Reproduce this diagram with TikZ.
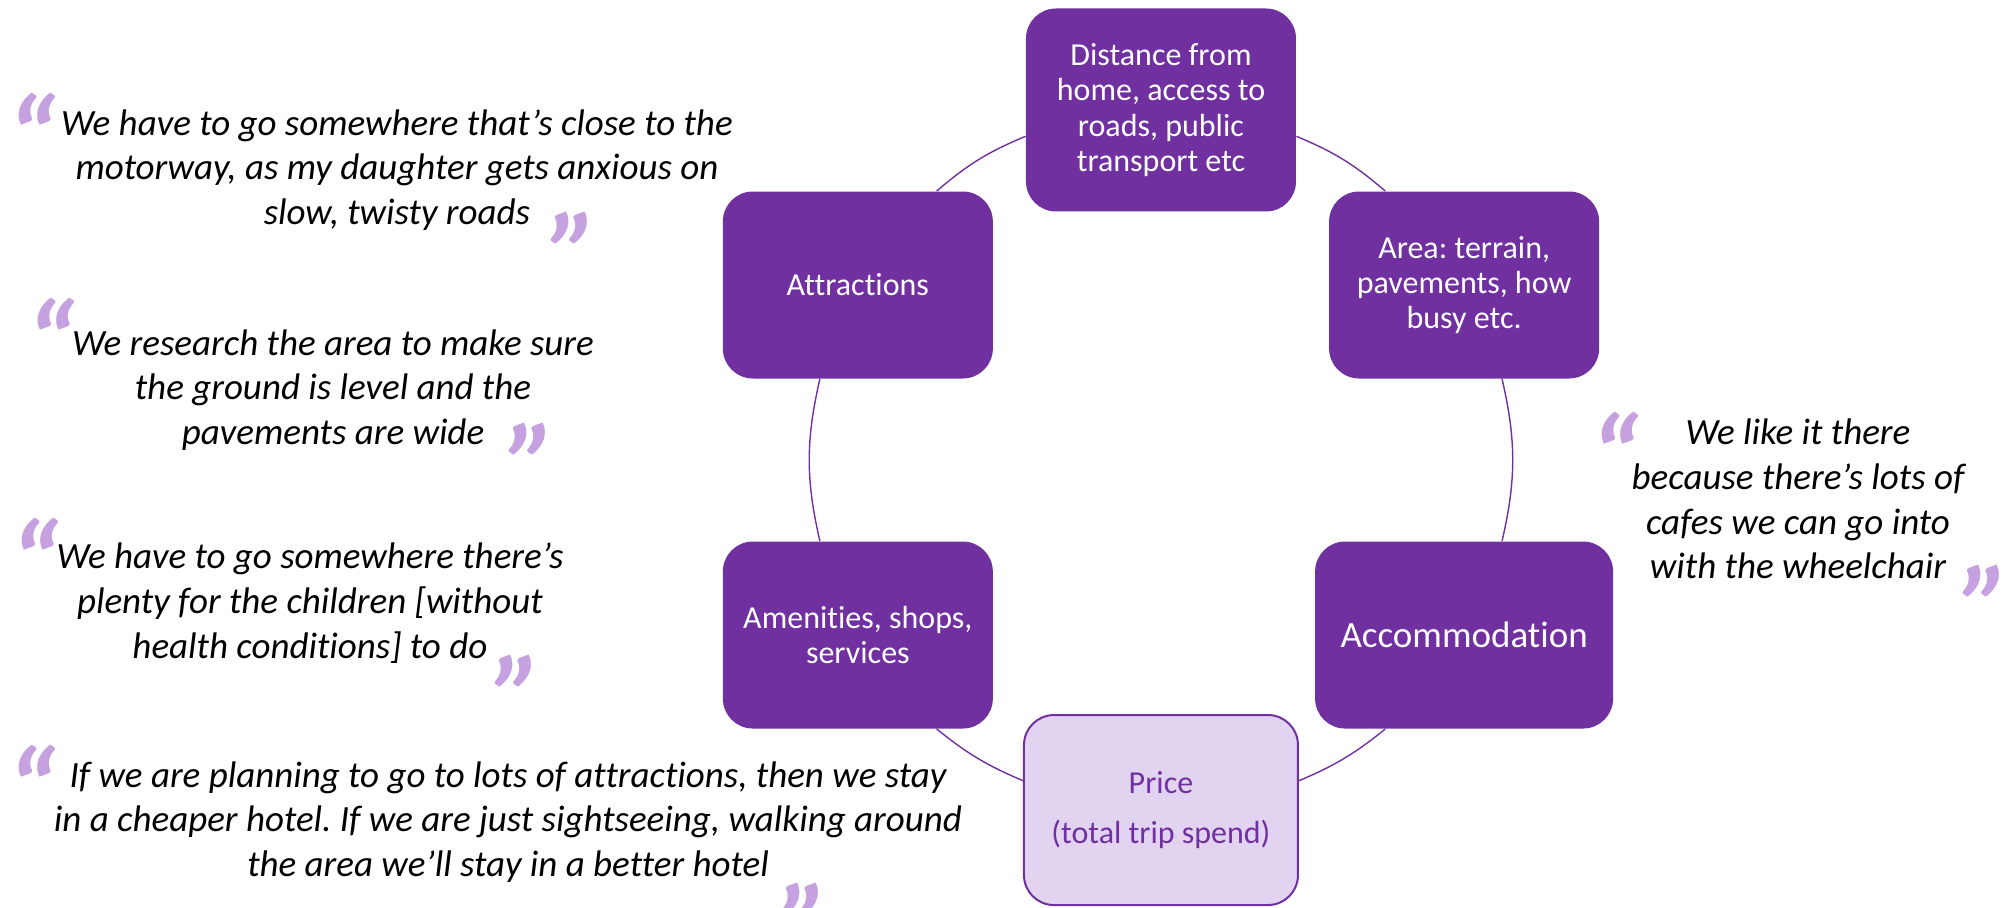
\documentclass[tikz,border=0pt]{standalone}
\usepackage{fontspec}
\setmainfont{Carlito}[Ligatures=NoCommon]
\frenchspacing
\definecolor{boxc}{HTML}{7030A0}
\definecolor{pricec}{HTML}{E2D3F1}
\definecolor{markc}{HTML}{C6A1E0}
\tikzset{
  catbox/.style={fill=boxc, text=white, rounded corners=15pt, minimum width=135pt, minimum height=93.5pt, align=center, font=\fontsize{16}{17.6}\selectfont},
  pricebox/.style={catbox, fill=pricec, draw=boxc, line width=1pt, text=boxc, minimum width=137pt, minimum height=95pt},
  quote/.style={align=center, font=\fontsize{18.5}{22.4}\selectfont\itshape},
  qmark/.style={inner sep=0pt, anchor=north, text=markc, font=\fontsize{58}{58}\selectfont\bfseries\itshape},
  link/.style={draw=boxc, line width=0.7pt}
}

\begin{document}
\begin{tikzpicture}
\useasboundingbox (-20.402,-7.855) rectangle (14.867,8.084);

\node[catbox, minimum height=101.5pt] (dist) at (90:6.151cm) {Distance from\\home, access to\\roads, public\\transport etc};
\node[catbox] (attr) at (150:6.151cm) {Attractions};
\node[catbox] (amen) at (210:6.151cm) {Amenities, shops,\\services};
\node[pricebox] (price) at (270:6.151cm) {Price\\[7pt](total trip spend)};
\node[catbox, minimum width=149pt, font=\fontsize{18.5}{22}\selectfont] (acc) at (330:6.151cm) {Accommodation};
\node[catbox] (area) at (30:6.151cm) {Area: terrain,\\pavements, how\\busy etc.};

\draw[link] (dist.191) to[bend right=9] (attr.50);
\draw[link] (attr.248) to[bend right=13] (amen.112);
\draw[link] (amen.310) to[bend right=8] (price.168);
\draw[link] (price.12) to[bend right=8] (acc.230);
\draw[link] (acc.68) to[bend right=13] (area.292);
\draw[link] (area.130) to[bend right=9] (dist.349);

% quotes
\node[quote] (q1) at (-13.426,5.096) {We have to go somewhere that’s close to the\\motorway, as my daughter gets anxious on\\slow, twisty roads};
\node[quote] (q2) at (-14.550,1.230) {We research the area to make sure\\the ground is level and the\\pavements are wide};
\node[quote] (q3) at (-14.955,-2.513) {We have to go somewhere there’s\\plenty for the children [without\\health conditions] to do};
\node[quote] (q4) at (-11.475,-6.361) {If we are planning to go to lots of attractions, then we stay\\in a cheaper hotel. If we are just sightseeing, walking around\\the area we’ll stay in a better hotel};
\node[quote] (q5) at (11.194,-0.685) {We like it there\\because there’s lots of\\cafes we can go into\\with the wheelchair};

\node[qmark] (q1open) at (-19.849,6.449) {“};
\node[qmark] (q1close) at (-10.298,4.358) {”};
\node[qmark] (q2open) at (-19.506,2.847) {“};
\node[qmark] (q2close) at (-11.036,0.650) {”};
\node[qmark] (q3open) at (-19.787,-1.019) {“};
\node[qmark] (q3close) at (-11.282,-3.427) {”};
\node[qmark] (q4open) at (-19.840,-5.008) {“};
\node[qmark] (q4close) at (-6.238,-7.433) {”};
\node[qmark] (q5open) at (7.978,0.843) {“};
\node[qmark] (q5close) at (14.515,-1.845) {”};
\end{tikzpicture}
\end{document}
